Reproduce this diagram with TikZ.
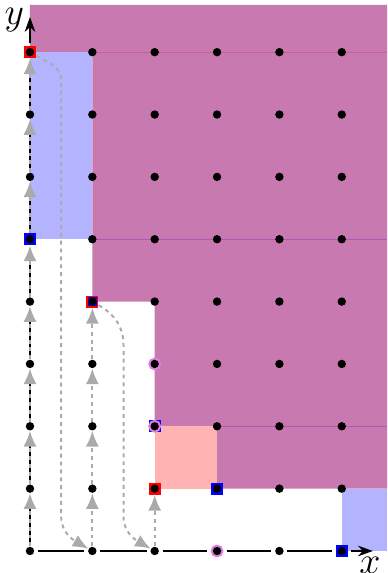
\documentclass[tikz,border=0pt]{standalone}
\usetikzlibrary{arrows.meta}
\definecolor{purp}{RGB}{200,122,176}
\definecolor{lblue}{RGB}{179,179,255}
\definecolor{lpink}{RGB}{255,179,179}
\definecolor{redline}{RGB}{215,90,140}
\definecolor{purline}{RGB}{170,90,190}
\definecolor{ringc}{RGB}{225,125,225}
\definecolor{arrgray}{RGB}{170,170,170}
\begin{document}
\begin{tikzpicture}[x=1cm,y=1cm,
  dot/.style={circle,fill=black,inner sep=0pt,minimum size=0.135cm},
  redsq/.style={rectangle,fill=red,inner sep=0pt,minimum size=0.19cm},
  bluesq/.style={rectangle,fill=blue,inner sep=0pt,minimum size=0.19cm},
  innerblue/.style={rectangle,fill=blue,inner sep=0pt,minimum size=0.14cm},
  ring/.style={circle,draw=ringc,line width=1pt,fill=ringc!40,inner sep=0pt,minimum size=0.17cm},
  axisedge/.style={black,line width=0.8pt,shorten <=1.5pt,shorten >=1.5pt},
  axisarrow/.style={black,line width=0.8pt,shorten <=1.5pt,-{Stealth[length=0.24cm,width=0.17cm]}},
  flow/.style={draw=arrgray,line width=0.9pt,dash pattern=on 1.8pt off 1.8pt,-{Latex[length=0.25cm,width=0.21cm]}},
  lbl/.style={inner sep=0pt,font=\fontsize{16}{16}\selectfont},
]
\useasboundingbox (-0.481,-0.353) rectangle (5.726,8.837);
% regions
\fill[purp] (0,8.757) -- (5.726,8.757) -- (5.726,1) -- (3,1) -- (3,2) -- (2,2) -- (2,4) -- (1,4) -- (1,8) -- (0,8) -- cycle;
\fill[lpink] (2,1) rectangle (3,2);
\fill[lblue] (0,5) rectangle (1,8);
\fill[lblue] (5,0) rectangle (5.726,1);
\draw[redline,line width=0.5pt] (1,8) -- (5.726,8);
\draw[purline,line width=0.5pt] (1,5) -- (5.726,5);
\draw[purline,line width=0.5pt] (3,2) -- (5.726,2);
% markers
\node[redsq] (r08) at (0,8) {};
\node[redsq] (r14) at (1,4) {};
\node[innerblue] (ib14) at (1,4) {};
\node[redsq] (r21) at (2,1) {};
\node[bluesq] (b05) at (0,5) {};
\node[bluesq] (b31) at (3,1) {};
\node[bluesq] (b50) at (5,0) {};
\node[bluesq] (b22) at (2,2) {};
\node[ring] (c22) at (2,2) {};
\node[ring] (c23) at (2,3) {};
\node[ring] (c30) at (3,0) {};
% grid dots
\foreach \i in {0,...,5}{
  \foreach \j in {0,...,8}{
    \node[dot] (n\i\j) at (\i,\j) {};
  }
}
% axis end points
\coordinate (xend) at (5.5,0);
\coordinate (yend) at (0,8.565);
% axes
\draw[axisedge] (n00) -- (n10);
\draw[axisedge] (n10) -- (n20);
\draw[axisedge] (n20) -- (c30);
\draw[axisedge] (c30) -- (n40);
\draw[axisedge] (n40) -- (b50);
\draw[axisarrow] (b50) -- (xend);
\draw[axisedge] (n00) -- (n01);
\draw[axisedge] (n01) -- (n02);
\draw[axisedge] (n02) -- (n03);
\draw[axisedge] (n03) -- (n04);
\draw[axisedge] (n04) -- (b05);
\draw[axisedge] (b05) -- (n06);
\draw[axisedge] (n06) -- (n07);
\draw[axisedge] (n07) -- (r08);
\draw[axisarrow] (r08) -- (yend);
\node[lbl] (xlab) at (5.45,-0.23) {$x$};
\node[lbl] (ylab) at (-0.25,8.52) {$y$};
% flow arrows
\draw[flow] (n00) -- (n01);
\draw[flow] (n01) -- (n02);
\draw[flow] (n02) -- (n03);
\draw[flow] (n03) -- (n04);
\draw[flow] (n04) -- (b05);
\draw[flow] (b05) -- (n06);
\draw[flow] (n06) -- (n07);
\draw[flow] (n07) -- (r08);
\draw[flow] (n10) -- (n11);
\draw[flow] (n11) -- (n12);
\draw[flow] (n12) -- (n13);
\draw[flow] (n13) -- (r14);
\draw[flow] (n20) -- (r21);
\coordinate (ca) at (0.5,7.55);
\coordinate (cb) at (0.5,0.55);
\coordinate (cc) at (1.5,3.3);
\coordinate (cd) at (1.5,0.55);
\draw[flow] (r08) to[out=-30,in=90] (ca) -- (cb) to[out=-90,in=150] (n10);
\draw[flow] (r14) to[out=-30,in=90] (cc) -- (cd) to[out=-90,in=150] (n20);
\end{tikzpicture}
\end{document}
